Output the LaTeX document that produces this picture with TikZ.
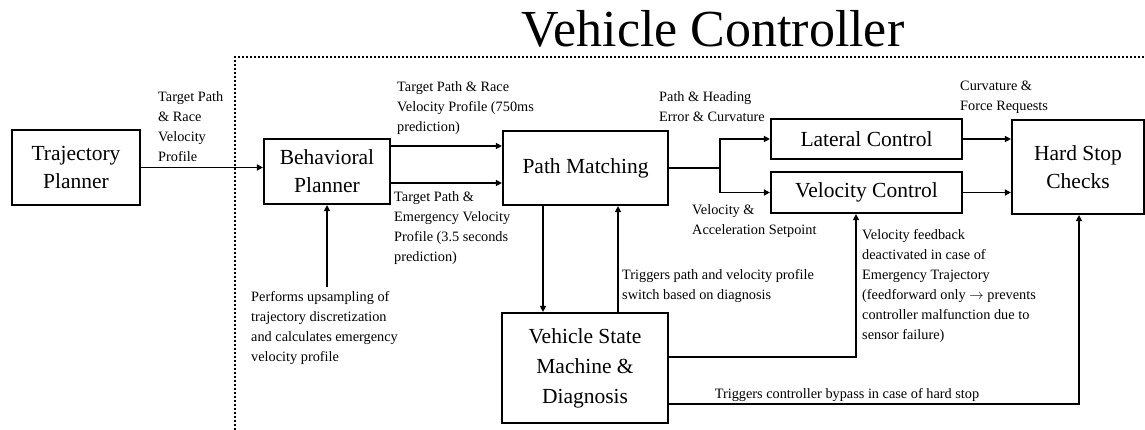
\documentclass[tikz,border=0pt]{standalone}
\usepackage{fontspec}
\setmainfont{Liberation Serif}
\usetikzlibrary{arrows.meta}

\begin{document}
\begin{tikzpicture}[x=1pt,y=-1pt,
  block/.style={draw,line width=2.2pt,align=center,inner sep=0pt,
    font=\fontsize{21.5}{28}\selectfont},
  note/.style={align=left,inner sep=0pt,anchor=north west,
    font=\fontsize{14.3}{20}\selectfont},
  arr/.style={line width=1.4pt,-{Triangle[length=6pt,width=6pt]}},
  wire/.style={line width=1.4pt}]
\useasboundingbox (0,0) rectangle (1145,430);
% controller frame
\draw[line width=2pt,dash pattern=on 2pt off 2pt] (235,430) -- (235,57) -- (1145,57);
\node[anchor=base,font=\fontsize{52}{58}\selectfont] (title) at (713,47) {Vehicle Controller};
% blocks
\node[block,minimum width=128pt,minimum height=75pt] (traj) at (76,167.5) {Trajectory\\Planner};
\node[block,minimum width=126pt,minimum height=65pt] (behav) at (327,171.5) {Behavioral\\Planner};
\node[block,minimum width=165pt,minimum height=74pt] (pm) at (585.5,168) {Path Matching};
\node[block,minimum width=191pt,minimum height=40pt] (lat) at (866.5,139) {Lateral Control};
\node[block,minimum width=191pt,minimum height=41pt] (vel) at (866.5,192.5) {Velocity Control};
\node[block,minimum width=132pt,minimum height=94pt] (hsc) at (1078,167) {Hard Stop\\Checks};
\node[block,minimum width=166pt,minimum height=110pt,
  font=\fontsize{21.5}{30}\selectfont] (vsm) at (585,368) {Vehicle State\\Machine \&\\Diagnosis};
% labels
\node[note] (lbltraj) at (158,91) {Target Path\\\& Race\\Velocity\\Profile};
\node[note] (lblrace) at (397,81) {Target Path \& Race\\Velocity Profile (750ms\\prediction)};
\node[note] (lblemerg) at (394,191) {Target Path \&\\Emergency Velocity\\Profile (3.5 seconds\\prediction)};
\node[note] (lblerr) at (659,91) {Path \& Heading\\Error \& Curvature};
\node[note] (lblset) at (692,204) {Velocity \&\\Acceleration Setpoint};
\node[note] (lblforce) at (960,81) {Curvature \&\\Force Requests};
\node[note] (lblswitch) at (622,269) {Triggers path and velocity profile\\switch based on diagnosis};
\node[note] (lblupsamp) at (251,291) {Performs upsampling of\\trajectory discretization\\and calculates emergency\\velocity profile};
\node[note] (lblfeed) at (862,229) {Velocity feedback\\deactivated in case of\\Emergency Trajectory\\(feedforward only $\rightarrow$ prevents\\controller malfunction due to\\sensor failure)};
\node[anchor=base,inner sep=0pt,font=\fontsize{14.3}{20}\selectfont] (lblbypass) at (847,398) {Triggers controller bypass in case of hard stop};
% connectors
\coordinate (split) at (720,168);
\coordinate (upsamp) at (327,287);
\coordinate (feedup) at (856,357);
\coordinate (bypass) at (1079,404);
\draw[arr] (traj.east) -- (traj.east -| behav.west);
\draw[arr] ([yshift=25.5pt]behav.east) -- ([yshift=22pt]pm.west);
\draw[arr] ([yshift=-11.5pt]behav.east) -- ([yshift=-15pt]pm.west);
\draw[arr] (upsamp) -- (behav.south);
\draw[wire] (pm.east) -- (split);
\draw[arr] (split) |- (lat.west);
\draw[arr] (split) |- (vel.west);
\draw[arr] (lat.east) -- (lat.east -| hsc.west);
\draw[arr] (vel.east) -- (vel.east -| hsc.west);
\draw[arr] ([xshift=-42.5pt]pm.south) -- ([xshift=-42.5pt]pm.south |- vsm.north);
\draw[arr] ([xshift=33pt]vsm.north) -- ([xshift=33pt]vsm.north |- pm.south);
\draw[arr] (vsm.east |- feedup) -- (feedup) -- (feedup |- vel.south);
\draw[arr] (vsm.east |- bypass) -- (bypass) -- (bypass |- hsc.south);
\end{tikzpicture}
\end{document}
